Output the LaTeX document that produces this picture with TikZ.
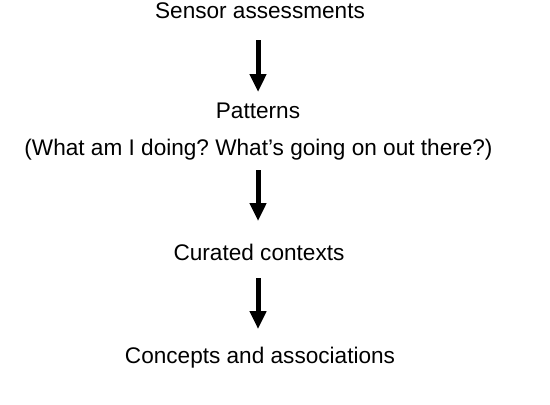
\documentclass[tikz,border=0pt]{standalone}
\usepackage{fontspec}
\setmainfont{Liberation Sans}
\usetikzlibrary{arrows.meta}
\frenchspacing

\begin{document}
\begin{tikzpicture}[x=0.5pt,y=-0.5pt]

\tikzset{label/.style = {anchor=base,inner sep=0pt,font=\fontsize{11.3}{13}\selectfont}}
\tikzset{edge/.style = {line width=2.5pt,-{Triangle[width=8pt,length=9pt]}}}
\useasboundingbox (0,0) rectangle (550,404);
% labels
\node[label] (sensor) at (260,18) {Sensor assessments};
\node[label] (patterns) at (258,118) {Patterns};
\node[label] (questions) at (258.5,155) {(What am I doing? What’s going on out there?)};
\node[label] (curated) at (259,260) {Curated contexts};
\node[label] (concepts) at (260,363) {Concepts and associations};

% arrows
\draw[edge] (patterns.base |- 0,40) to (patterns.base |- 0,92);
\draw[edge] (patterns.base |- 0,170) to (patterns.base |- 0,221);
\draw[edge] (patterns.base |- 0,278) to (patterns.base |- 0,329);

\end{tikzpicture}
\end{document}
